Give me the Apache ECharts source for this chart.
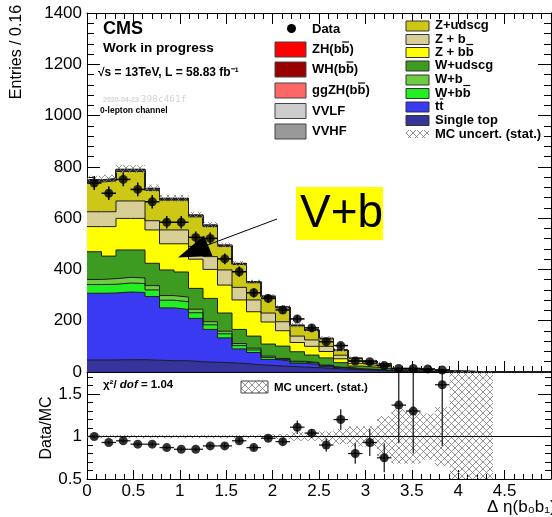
<!DOCTYPE html>
<html>
<head>
<meta charset="utf-8">
<title>Delta eta(b0 b1), 0-lepton channel</title>
<script src="https://cdn.jsdelivr.net/npm/echarts@6.0.0/dist/echarts.min.js"></script>
<style>
  html, body { margin: 0; padding: 0; background: #fff; }
  #main { width: 552px; height: 517px; }
</style>
</head>
<body>
<div id="main"></div>
<script>
var chart = echarts.init(document.getElementById('main'))
var FONT = '"Liberation Sans", Arial, Helvetica, sans-serif'

// 32 bins from 0 to 5 ("Entries / 0.16")
var binWidth = 0.15625

// MC backgrounds per bin
var singleTop = [47,47,48,48,46,44,44,40,38,36,33,28,25,22,19,17,14,11,8,6,4,2.5,1.5,1,0.6,0.4,0.2,0.1,0.05,0.03,0.02,0.01]
var ttbar     = [260,261,264,262,248,206,200,169,128,97,57,48,24,21,15,13,8,4,2,2,1,0.5,0.5,0.3,0.2,0.1,0.1,0.1,0.05,0.03,0.01,0.01]
var wbb       = [34,34,35,35,26,30,30,22,18,16,13,10,8,6,5,4,3,2,1.5,1,0.8,0.4,0.3,0.2,0.1,0.08,0.05,0.03,0.02,0.01,0,0]
var wb        = [20,22,22,22,17,18,18,14,12,10,8,7,5,4,3,3,2,1.5,1,0.8,0.5,0.3,0.2,0.1,0.08,0.05,0.03,0.02,0.01,0,0,0]
var wudscg    = [108,88,107,109,87,100,98,81,91,71,55,47,47,48,37,29,28,18,11,9,7,1.5,1.5,0.7,0.5,0.35,0.2,0.15,0.1,0.08,0.05,0.02]
var zbb       = [98,115,123,123,130,102,110,114,113,109,115,95,86,60,36,34,25,15,9,7,6,2,2,1,1,0.5,0.4,0.3,0.15,0.1,0.07,0.04]
var zb        = [58,58,68,68,36,54,54,50,50,59,49,46,35,35,25,25,20,14,9,7,5,2,2,1,0.5,0.5,0.5,0.2,0.2,0.1,0.05,0.04]
var zudscg    = [116,120,115,115,118,116,116,115,117,92,89,67,62,54,40,37,29,19,11,9,7,2.5,2.5,1.6,1.6,0.8,0.4,0.25,0.15,0.1,0.08,0.05]
var vvhf      = [3,3,3,3,3,3,3,3,2,2,2,2,1.5,1.5,1,1,1,0.5,0.5,0.3,0.3,0.2,0.1,0.1,0.1,0.05,0.03,0.02,0.01,0,0,0]
var vvlf      = [4,4,4,4,4,3,3,3,3,2,2,2,1.5,1.5,1,1,1,0.5,0.5,0.3,0.3,0.2,0.1,0.1,0.1,0.05,0.03,0.02,0.01,0,0,0]
var ggzh      = [0.2,0.2,0.2,0.2,0.2,0.2,0.2,0.1,0.1,0.1,0.1,0.1,0.1,0.05,0.05,0.05,0.02,0.02,0.02,0.01,0.01,0,0,0,0,0,0,0,0,0,0,0]
var wh        = [0.6,0.6,0.6,0.5,0.5,0.5,0.4,0.4,0.4,0.3,0.3,0.2,0.2,0.2,0.1,0.1,0.1,0.05,0.05,0.03,0.03,0.01,0.01,0,0,0,0,0,0,0,0,0]
var zh        = [1.2,1.2,1.1,1.1,1.0,1.0,0.9,0.8,0.7,0.6,0.5,0.4,0.3,0.3,0.2,0.2,0.1,0.1,0.1,0.05,0.05,0.02,0.02,0.01,0.01,0,0,0,0,0,0,0]

// observed data and its stat. error
var dataCounts = [737,697,751,712,664,584,584,525,521,441,391,309,287,242,207,172,118,103,43,40,25,14,14,12,8]
var dataErr    = [27,26,27,27,26,24,24,23,23,21,20,18,17,16,14,13,11,10,7,6,5,4,4,3.5,3]

// ratio panel
var ratio     = [1.00,0.93,0.95,0.91,0.91,0.87,0.85,0.85,0.89,0.89,0.95,0.87,0.98,0.94,1.11,1.04,0.90,1.20,0.80,0.93,0.75,1.37,1.30,null,1.61]
var ratioErr  = [0.02,0.02,0.02,0.02,0.02,0.02,0.02,0.02,0.02,0.03,0.03,0.03,0.03,0.04,0.08,0.05,0.08,0.12,0.12,0.16,0.17,0.45,0.5,null,0.72]
var mcRelErr  = [0.02,0.02,0.02,0.02,0.02,0.02,0.02,0.02,0.02,0.02,0.02,0.02,0.025,0.03,0.05,0.05,0.06,0.09,0.12,0.12,0.24,0.32,0.32,0.27,0.35,1,1,1,0,0,0,0]

// stack order, bottom to top
var procs = [
  {name: 'Single top', values: singleTop, color: '#34349a'},
  {name: 'tt', values: ttbar, color: '#3a3af2'},
  {name: 'W+bb', values: wbb, color: '#22ee22'},
  {name: 'W+b', values: wb, color: '#6ccc44'},
  {name: 'W+udscg', values: wudscg, color: '#3e9b22'},
  {name: 'Z+bb', values: zbb, color: '#ffff00'},
  {name: 'Z+b', values: zb, color: '#d8cf96'},
  {name: 'Z+udscg', values: zudscg, color: '#cdc715'},
  {name: 'VVHF', values: vvhf, color: '#999999'},
  {name: 'VVLF', values: vvlf, color: '#cccccc'},
  {name: 'ggZH', values: ggzh, color: '#ff6666'},
  {name: 'WH', values: wh, color: '#990000'},
  {name: 'ZH', values: zh, color: '#ff0000'}
]

// cross hatch used for the MC stat. band
var hatch = document.createElement('canvas')
hatch.width = 7
hatch.height = 7
var hc = hatch.getContext('2d')
hc.strokeStyle = '#7a7a7a'
hc.lineWidth = 0.8
hc.beginPath()
hc.moveTo(0, 0); hc.lineTo(7, 7)
hc.moveTo(7, 0); hc.lineTo(0, 7)
hc.stroke()
var hatchFill = {image: hatch, repeat: 'repeat'}

var nBins = singleTop.length
var cumul = []   // cumulative top of each layer
var running = []
for (var i = 0; i < nBins; i++) running.push(0)
procs.forEach(function (p) {
  running = running.map(function (v, i) { return v + p.values[i] })
  cumul.push(running.slice())
})
var total = cumul[cumul.length - 1]

var series = []
// draw from the top layer down, each area filled to zero
for (var k = procs.length - 1; k >= 0; k--) {
  var pts = []
  for (var i = 0; i < nBins; i++) pts.push([i * binWidth, cumul[k][i]])
  pts.push([nBins * binWidth, cumul[k][nBins - 1]])
  series.push({
    name: procs[k].name,
    type: 'line',
    xAxisIndex: 0, yAxisIndex: 0,
    step: 'end',
    symbol: 'none',
    data: pts,
    areaStyle: {color: procs[k].color, opacity: 1},
    lineStyle: {color: '#1e1e1e', width: 1},
    silent: true,
    z: 2
  })
}

// MC stat. band, on the stack and around 1 in the ratio
var bandTop = []
var bandRatio = []
for (var i = 0; i < nBins; i++) {
  if (mcRelErr[i] <= 0) continue
  bandTop.push([i * binWidth, (i + 1) * binWidth, total[i] * (1 - mcRelErr[i]), total[i] * (1 + mcRelErr[i])])
  bandRatio.push([i * binWidth, (i + 1) * binWidth, 1 - mcRelErr[i], 1 + mcRelErr[i]])
}

function bandItem(params, api) {
  var p0 = api.coord([api.value(0), api.value(3)])
  var p1 = api.coord([api.value(1), api.value(2)])
  return {
    type: 'rect',
    shape: {x: p0[0], y: p0[1], width: p1[0] - p0[0], height: p1[1] - p0[1]},
    style: {fill: hatchFill, stroke: null}
  }
}

function errItem(width, color) {
  return function (params, api) {
    var x = api.value(0), y = api.value(1), e = api.value(2)
    var l = api.coord([x - binWidth / 2, y])
    var r = api.coord([x + binWidth / 2, y])
    var t = api.coord([x, y + e])
    var b = api.coord([x, y - e])
    return {
      type: 'group',
      children: [
        {type: 'line', shape: {x1: l[0], y1: l[1], x2: r[0], y2: r[1]}, style: {stroke: color, lineWidth: width}},
        {type: 'line', shape: {x1: t[0], y1: t[1], x2: b[0], y2: b[1]}, style: {stroke: color, lineWidth: width}}
      ]
    }
  }
}

var dataPts = []
dataCounts.forEach(function (v, i) {
  if (v != null && v > 0) dataPts.push([(i + 0.5) * binWidth, v, dataErr[i]])
})
var ratioPts = []
ratio.forEach(function (v, i) {
  if (v != null) ratioPts.push([(i + 0.5) * binWidth, v, ratioErr[i]])
})

series.push({
  type: 'custom', xAxisIndex: 0, yAxisIndex: 0, z: 3, silent: true, clip: true,
  data: bandTop, renderItem: bandItem
})
series.push({
  type: 'custom', xAxisIndex: 0, yAxisIndex: 0, z: 4, silent: true, clip: true,
  data: dataPts, renderItem: errItem(1.5, '#000')
})
series.push({
  type: 'scatter', xAxisIndex: 0, yAxisIndex: 0, z: 5, silent: true,
  symbol: 'circle', symbolSize: 9, itemStyle: {color: '#000'},
  data: dataPts.map(function (d) { return [d[0], d[1]] })
})

// ratio panel
series.push({
  type: 'custom', xAxisIndex: 2, yAxisIndex: 2, z: 3, silent: true, clip: true,
  data: bandRatio, renderItem: bandItem
})
series.push({
  type: 'line', xAxisIndex: 2, yAxisIndex: 2, z: 4, silent: true, symbol: 'none',
  lineStyle: {color: '#000', width: 1},
  data: [[0, 1], [5, 1]]
})
series.push({
  type: 'custom', xAxisIndex: 2, yAxisIndex: 2, z: 5, silent: true, clip: true,
  data: ratioPts, renderItem: errItem(1.3, '#222')
})
series.push({
  type: 'scatter', xAxisIndex: 2, yAxisIndex: 2, z: 6, silent: true,
  symbol: 'circle', symbolSize: 9, itemStyle: {color: '#000'},
  data: ratioPts.map(function (d) { return [d[0], d[1]] })
})

var black = {color: '#000', width: 1}
function plainNum(v) { return String(Math.round(v * 100) / 100) }
function xAx(grid, pos, labels, major, minor) {
  return {
    gridIndex: grid, type: 'value', position: pos, min: 0, max: 5, interval: 0.5,
    axisLine: {onZero: false, lineStyle: black},
    axisTick: {inside: true, length: major, lineStyle: black},
    minorTick: {show: true, splitNumber: 5, length: minor, lineStyle: black},
    splitLine: {show: false},
    axisLabel: {show: labels, color: '#000', fontSize: 17, fontFamily: FONT, margin: 4, showMaxLabel: false, formatter: plainNum}
  }
}
function yAx(grid, pos, labels, min, max, interval, major, minor, split) {
  return {
    gridIndex: grid, type: 'value', position: pos, min: min, max: max, interval: interval,
    axisLine: {onZero: false, lineStyle: black},
    axisTick: {inside: true, length: major, lineStyle: black},
    minorTick: {show: split > 0, splitNumber: split || 5, length: minor, lineStyle: black},
    splitLine: {show: false},
    axisLabel: {show: labels, color: '#000', fontSize: 17, fontFamily: FONT, margin: 5, showMaxLabel: grid === 0, formatter: plainNum}
  }
}

var ratioMinor = yAx(1, 'left', false, 0.5, 1.76, 0.1, 6, 0, 0)
ratioMinor.axisLine = {show: false}
var ratioMinorR = yAx(1, 'right', false, 0.5, 1.76, 0.1, 6, 0, 0)
ratioMinorR.axisLine = {show: false}

// legend entries; bar = index of the character that carries an overline
var legendCol1 = [
  {label: 'ZH(bb)', bar: 4, color: '#ff0000', y: 49.5},
  {label: 'WH(bb)', bar: 4, color: '#990000', y: 69.5},
  {label: 'ggZH(bb)', bar: 6, color: '#ff6666', y: 90.5},
  {label: 'VVLF', color: '#cccccc', y: 111},
  {label: 'VVHF', color: '#999999', y: 131.5}
]
var legendCol2 = [
  {label: 'Z+udscg', color: '#cdc715', y: 26},
  {label: 'Z + b', color: '#d8cf96', y: 39.5},
  {label: 'Z + bb', bar: 5, color: '#ffff00', y: 52.5},
  {label: 'W+udscg', color: '#3e9b22', y: 66},
  {label: 'W+b', color: '#6ccc44', y: 80},
  {label: 'W+bb', bar: 3, color: '#22ee22', y: 93.5},
  {label: 'tt', bar: 1, color: '#3a3af2', y: 107},
  {label: 'Single top', color: '#34349a', y: 120.5}
]

var graphics = []
var measure = document.createElement('canvas').getContext('2d')
function addText(x, y, text, font, extra) {
  var st = {text: text, x: x, y: y, font: font, fill: '#000', verticalAlign: 'middle'}
  if (extra) for (var key in extra) st[key] = extra[key]
  graphics.push({type: 'text', silent: true, z: 50, style: st})
}
function addOverline(x, y, label, idx, font) {
  measure.font = font
  var x0 = x + measure.measureText(label.slice(0, idx)).width
  var w = measure.measureText(label.charAt(idx)).width
  graphics.push({type: 'line', silent: true, z: 50,
    shape: {x1: x0 + 0.5, y1: y - 7.5, x2: x0 + w - 0.5, y2: y - 7.5},
    style: {stroke: '#000', lineWidth: 1.2}})
}

var legFont = 'bold 13px ' + FONT
legendCol1.forEach(function (e) {
  graphics.push({type: 'rect', silent: true, z: 50, shape: {x: 275, y: e.y - 7.5, width: 31, height: 15},
    style: {fill: e.color, stroke: '#444', lineWidth: 1}})
  addText(312, e.y, e.label, legFont)
  if (e.bar != null) addOverline(312, e.y, e.label, e.bar, legFont)
})
graphics.push({type: 'circle', silent: true, z: 50, shape: {cx: 291.5, cy: 28.5, r: 4.5}, style: {fill: '#000'}})
addText(312, 29, 'Data', legFont)

legendCol2.forEach(function (e) {
  graphics.push({type: 'rect', silent: true, z: 50, shape: {x: 406, y: e.y - 5, width: 23, height: 10},
    style: {fill: e.color, stroke: '#333', lineWidth: 1}})
  addText(435, e.y - 0.5, e.label, legFont)
  if (e.bar != null) addOverline(435, e.y - 0.5, e.label, e.bar, legFont)
})
graphics.push({type: 'rect', silent: true, z: 50, shape: {x: 406, y: 130, width: 23, height: 8},
  style: {fill: hatchFill}})
addText(435, 134, 'MC uncert. (stat.)', legFont)

// CMS labels
addText(103, 29, 'CMS', 'bold 18px ' + FONT)
addText(103, 48, 'Work in progress', 'bold 13.5px ' + FONT)
addText(98, 72.5, '\u221As = 13TeV, L = 58.83 fb\u207B\u00B9', 'bold 12px ' + FONT)
addText(103, 100, '{a|2020-04-23} {b|398c461f}', '7px ' + FONT, {
  rich: {
    a: {fontFamily: FONT, fontWeight: 'bold', fontSize: 7, fill: '#d4d4d4'},
    b: {fontFamily: '"DejaVu Sans Mono", monospace', fontSize: 9.5, fill: '#d4d4d4'}
  }
})
addText(100, 110.5, '0-lepton channel', 'bold 8.5px ' + FONT)

// axis titles
graphics.push({type: 'text', silent: true, z: 50, x: 17, y: 52, rotation: Math.PI / 2,
  style: {text: 'Entries / 0.16', font: '16px ' + FONT, fill: '#000', align: 'center', verticalAlign: 'middle'}})
graphics.push({type: 'text', silent: true, z: 50, x: 47, y: 428, rotation: Math.PI / 2,
  style: {text: 'Data/MC', font: '16px ' + FONT, fill: '#000', align: 'center', verticalAlign: 'middle'}})
addText(487, 507, '\u0394 \u03B7(b\u2080b\u2081)', '17px ' + FONT)

// ratio panel labels
addText(103, 385, '{a|\u03C7\u00B2/ }{b|dof}{a| = 1.04}', '11px ' + FONT, {
  rich: {
    a: {fontFamily: FONT, fontWeight: 'bold', fontSize: 11.5, fill: '#000'},
    b: {fontFamily: FONT, fontWeight: 'bold', fontStyle: 'italic', fontSize: 11.5, fill: '#000'}
  }
})
graphics.push({type: 'rect', silent: true, z: 50, shape: {x: 241, y: 381, width: 27, height: 12},
  style: {fill: hatchFill, stroke: '#444', lineWidth: 1}})
addText(274, 387.5, 'MC uncert. (stat.)', 'bold 11.5px ' + FONT)

// V+b annotation with arrow
graphics.push({type: 'rect', silent: true, z: 60, shape: {x: 296, y: 187, width: 87, height: 53},
  style: {fill: '#ffff00'}})
addText(300, 214, 'V+b', '46px ' + FONT)
graphics[graphics.length - 1].z = 61
graphics.push({type: 'line', silent: true, z: 60, shape: {x1: 277, y1: 219, x2: 205, y2: 246},
  style: {stroke: '#000', lineWidth: 1}})
graphics.push({type: 'polygon', silent: true, z: 60, shape: {points: [[178, 257.5], [204, 235.5], [212.5, 256]]},
  style: {fill: '#000'}})

var option = {
  animation: false,
  textStyle: {fontFamily: FONT},
  grid: [
    {left: 87, top: 13, width: 464, height: 359, outerBoundsMode: 'none', containLabel: false},
    {left: 87, top: 372, width: 464, height: 107, outerBoundsMode: 'none', containLabel: false}
  ],
  xAxis: [
    xAx(0, 'bottom', false, 11, 6),
    xAx(0, 'top', false, 11, 6),
    xAx(1, 'bottom', true, 9, 5)
  ],
  yAxis: [
    yAx(0, 'left', true, 0, 1400, 200, 13, 7, 5),
    yAx(0, 'right', false, 0, 1400, 200, 13, 7, 5),
    yAx(1, 'left', true, 0.5, 1.76, 0.5, 13, 0, 0),
    yAx(1, 'right', false, 0.5, 1.76, 0.5, 13, 0, 0),
    ratioMinor,
    ratioMinorR
  ],
  series: series,
  graphic: {elements: graphics}
}

chart.setOption(option)
</script>
</body>
</html>
